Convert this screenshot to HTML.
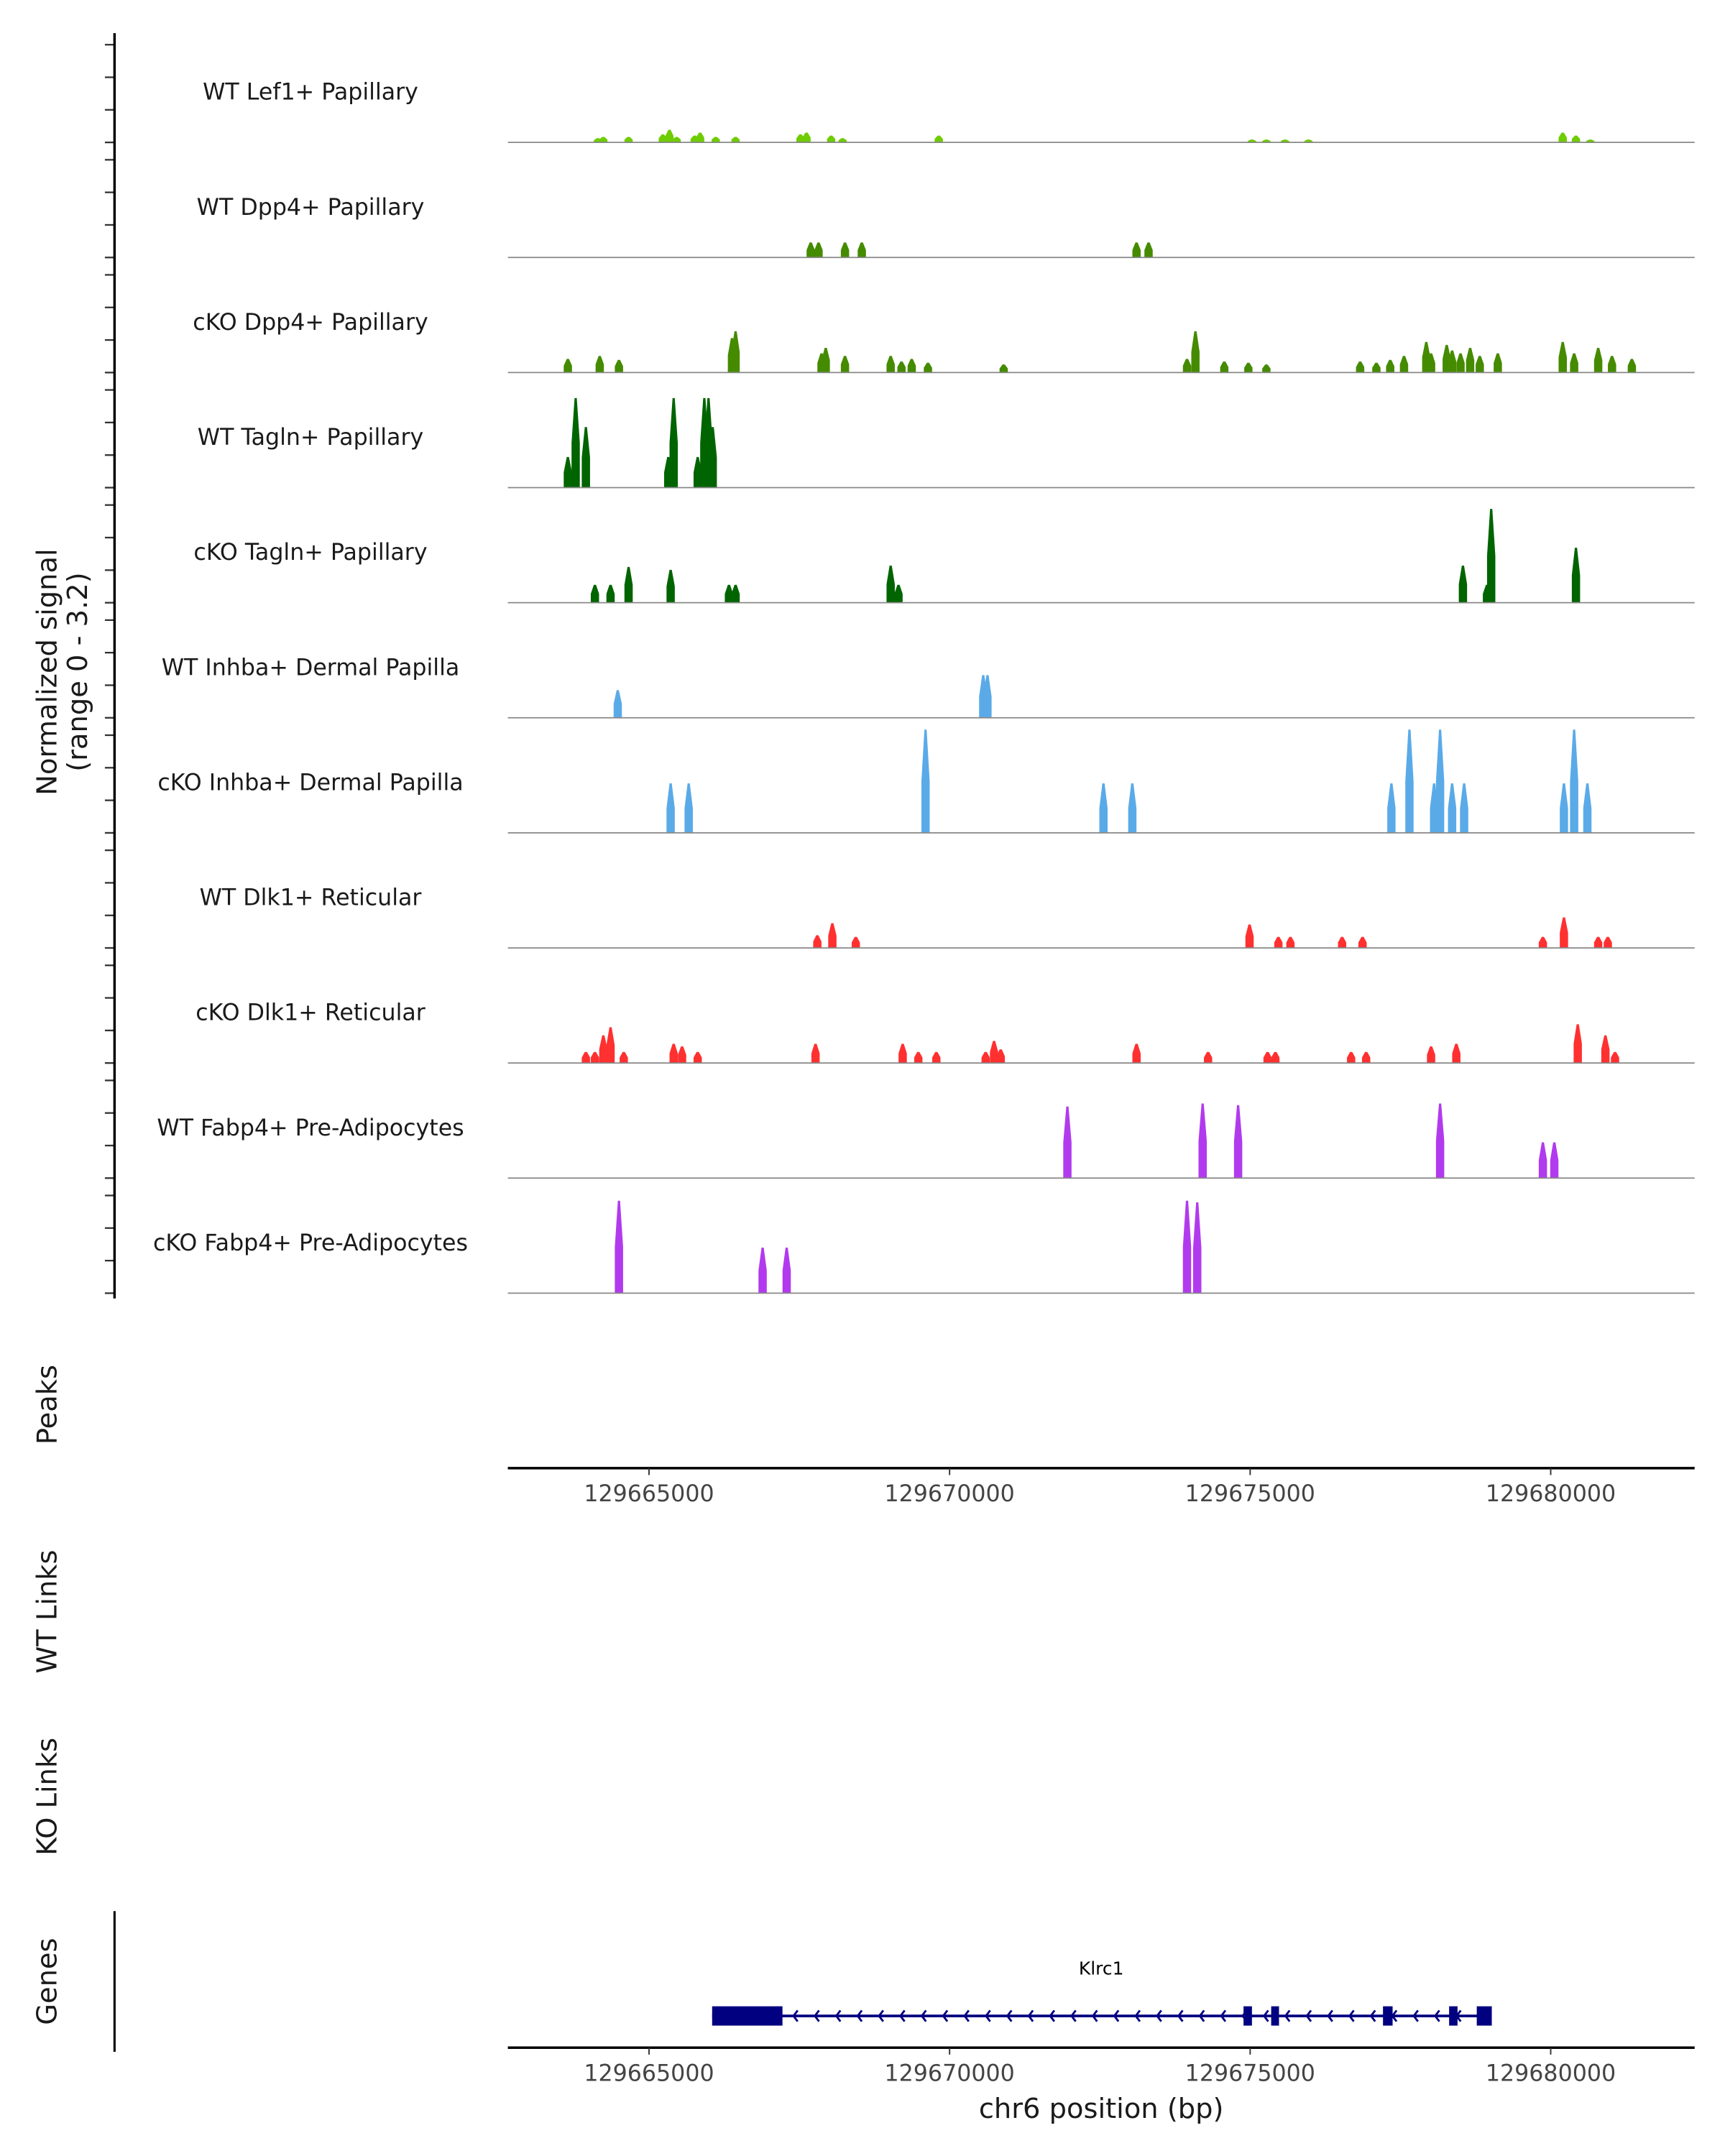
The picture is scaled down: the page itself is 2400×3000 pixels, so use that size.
<!DOCTYPE html>
<html><head><meta charset="utf-8"><style>
html,body{margin:0;padding:0;background:#fff;}
svg{display:block;font-family:"DejaVu Sans","Liberation Sans",sans-serif;}
</style></head><body>
<svg id="chart" width="2400" height="3000" viewBox="0 0 1250 1562.5" xmlns="http://www.w3.org/2000/svg">
<rect width="1250" height="1562.5" fill="#fff"/>
<g id="tracks"></g>
<g id="axes"></g>
</svg>
<script>
// ---- data (positions in bp, values in normalized signal) ----
const trackNames = ["WT Lef1+ Papillary","WT Dpp4+ Papillary","cKO Dpp4+ Papillary","WT Tagln+ Papillary","cKO Tagln+ Papillary","WT Inhba+ Dermal Papilla","cKO Inhba+ Dermal Papilla","WT Dlk1+ Reticular","cKO Dlk1+ Reticular","WT Fabp4+ Pre-Adipocytes","cKO Fabp4+ Pre-Adipocytes"];
const trackColors = ["#6fcc00","#458b00","#458b00","#006400","#006400","#5aaae8","#5aaae8","#ff3030","#ff3030","#b23aee","#b23aee"];
const pos0 = [129664150,129664240,129664660,129665230,129665340,129665460,129665760,129665850,129666110,129666440,129667520,129667620,129668030,129668220,129669820,129675030,129675270,129675580,129675970,129680200,129680420,129680660];
const val0 = [0.13,0.17,0.17,0.25,0.39,0.17,0.21,0.3,0.17,0.17,0.25,0.3,0.21,0.13,0.21,0.09,0.09,0.09,0.09,0.3,0.21,0.09];
const pos1 = [129667690,129667820,129668260,129668540,129673110,129673310];
const val1 = [0.46,0.46,0.46,0.46,0.46,0.46];
const pos2 = [129663650,129664180,129664500,129666380,129666440,129667870,129667940,129668260,129669020,129669200,129669370,129669640,129670900,129673950,129674090,129674570,129674970,129675270,129676830,129677100,129677330,129677560,129677930,129678010,129678270,129678360,129678500,129678660,129678820,129679120,129680200,129680390,129680790,129681020,129681350];
const val2 = [0.42,0.51,0.39,1.06,1.27,0.59,0.76,0.51,0.51,0.34,0.42,0.3,0.25,0.42,1.27,0.34,0.3,0.25,0.34,0.3,0.39,0.51,0.94,0.59,0.85,0.68,0.59,0.76,0.51,0.59,0.94,0.59,0.76,0.51,0.42];
const pos3 = [129663650,129663780,129663950,129665320,129665410,129665810,129665920,129665990,129666060];
const val3 = [0.94,2.75,1.86,0.94,2.75,0.94,2.75,2.75,1.86];
const pos4 = [129664100,129664360,129664660,129665360,129666330,129666440,129669020,129669150,129678540,129678940,129679010,129680420];
const val4 = [0.55,0.55,1.1,1.01,0.55,0.55,1.14,0.55,1.14,0.55,2.88,1.69];
const pos5 = [129664480,129670560,129670630];
const val5 = [0.85,1.31,1.31];
const pos6 = [129665360,129665660,129669600,129672560,129673040,129677350,129677650,129678060,129678160,129678360,129678560,129680220,129680390,129680610];
const val6 = [1.52,1.52,3.17,1.52,1.52,1.52,3.17,1.52,3.17,1.52,1.52,1.52,3.17,1.52];
const pos7 = [129667800,129668050,129668440,129674990,129675470,129675670,129676530,129676870,129679870,129680220,129680790,129680950];
const val7 = [0.39,0.76,0.34,0.72,0.34,0.34,0.34,0.34,0.34,0.94,0.34,0.34];
const pos8 = [129663950,129664100,129664240,129664360,129664580,129665410,129665550,129665810,129667770,129669220,129669480,129669780,129670600,129670740,129670850,129673110,129674300,129675290,129675420,129676680,129676930,129678010,129678430,129680450,129680910,129681070];
const val8 = [0.34,0.34,0.85,1.1,0.34,0.59,0.51,0.34,0.59,0.59,0.34,0.34,0.34,0.68,0.42,0.59,0.34,0.34,0.34,0.34,0.34,0.51,0.59,1.19,0.85,0.34];
const pos9 = [129671960,129674210,129674800,129678160,129679870,129680060];
const val9 = [2.2,2.29,2.24,2.29,1.1,1.1];
const pos10 = [129664500,129666890,129667290,129673950,129674120];
const val10 = [2.84,1.4,1.4,2.84,2.79];
const trackPos = [pos0,pos1,pos2,pos3,pos4,pos5,pos6,pos7,pos8,pos9,pos10];
const trackVals = [val0,val1,val2,val3,val4,val5,val6,val7,val8,val9,val10];
const yTickVals = [0,1,2,3];
const xTicks = [129665000,129670000,129675000,129680000];
const xTickLabels = ["129665000","129670000","129675000","129680000"];
const geneName = "Klrc1";
const geneStart = 129666050, geneEnd = 129679020;
const exonStarts = [129666050,129674890,129675350,129677210,129678310,129678770];
const exonEnds = [129667220,129675030,129675480,129677370,129678450,129679020];

// ---- scales ----
const NS = "http://www.w3.org/2000/svg";
const X0 = 368, X1 = 1228;
function xs(bp){ return 470.3 + (bp - 129665000) * 0.04356; }
const trackH = 83.4, firstBase = 103.2;
function base(i){ return firstBase + i * trackH; }
function ys(v){ return v * 23.6; }
function mk(tag, attrs, parent){ const e = document.createElementNS(NS, tag); for (const k in attrs) e.setAttribute(k, attrs[k]); parent.appendChild(e); return e; }

const gT = document.getElementById("tracks");
const gA = document.getElementById("axes");

for (let i = 0; i < trackNames.length; i++) {
  const b = base(i);
  const g = mk("g", {}, gT);
  
  
  const lab = mk("text", {x:225, y:b-31, "text-anchor":"middle", "font-size":"16.5", fill:"#1a1a1a"}, g);
  lab.textContent = trackNames[i];
  
  
  const ps = trackPos[i], vs = trackVals[i];
  for (let j = 0; j < ps.length; j++) {
    const x = xs(ps[j]), h = ys(vs[j]);
    const p = mk("polygon", {points:`${x-3},${b} ${x-3},${b-h*0.5} ${x-0.8},${b-h} ${x+0.8},${b-h} ${x+3},${b-h*0.5} ${x+3},${b}`, fill:trackColors[i]}, g);
    
    
  }
  const bl = mk("line", {x1:X0, x2:X1, y1:b, y2:b, stroke:"#888", "stroke-width":"0.9"}, g);
  
  
  for (let k = 0; k < yTickVals.length; k++) {
    const y = b - ys(yTickVals[k]);
    const t = mk("line", {x1:76, x2:83, y1:y, y2:y, stroke:"#333", "stroke-width":"1.2"}, gA);
    
    
  }
}

// left y axis
const yl = mk("line", {x1:83, x2:83, y1:24, y2:941, stroke:"#000", "stroke-width":"1.8"}, gA);


const yt = mk("text", {transform:"translate(41,487) rotate(-90)", "text-anchor":"middle", "font-size":"20", fill:"#1a1a1a"}, gA);


const t1 = mk("tspan", {x:0, dy:"0"}, yt); t1.textContent = "Normalized signal";
const t2 = mk("tspan", {x:0, dy:"22"}, yt); t2.textContent = "(range 0 - 3.2)";

function sideLabel(txt, y, name){
  const t = mk("text", {transform:`translate(41,${y}) rotate(-90)`, "text-anchor":"middle", "font-size":"20", fill:"#1a1a1a"}, gA);
  t.textContent = txt;
  
  
}
sideLabel("Peaks", 1018, "peaks-label");
sideLabel("WT Links", 1168, "wt-links-label");
sideLabel("KO Links", 1302, "ko-links-label");
sideLabel("Genes", 1436, "genes-label");

function xAxis(y, name){
  const l = mk("line", {x1:X0, x2:X1, y1:y, y2:y, stroke:"#000", "stroke-width":"1.8"}, gA);
  
  
  for (let k = 0; k < xTicks.length; k++) {
    const x = xs(xTicks[k]);
    const tk = mk("line", {x1:x, x2:x, y1:y, y2:y+5, stroke:"#333", "stroke-width":"1"}, gA);
    
    
    const tl = mk("text", {x:x, y:y+24, "text-anchor":"middle", "font-size":"16.5", fill:"#444"}, gA);
    tl.textContent = xTickLabels[k];
    
    
  }
}
xAxis(1064, "peaks-x-axis");
xAxis(1484, "genes-x-axis");
const xt = mk("text", {x:798, y:1535, "text-anchor":"middle", "font-size":"20", fill:"#1a1a1a"}, gA);
xt.textContent = "chr6 position (bp)";



// gene track
const gl = mk("line", {x1:83, x2:83, y1:1385, y2:1487, stroke:"#000", "stroke-width":"1.6"}, gA);


const gG = mk("g", {}, gA);


const gy = 1461;
mk("line", {x1:xs(geneStart), x2:xs(geneEnd), y1:gy, y2:gy, stroke:"#000080", "stroke-width":"2"}, gG);
for (let k = 0; k < exonStarts.length; k++) {
  const e = mk("rect", {x:xs(exonStarts[k]), y:gy-7, width:Math.max(4, (exonEnds[k]-exonStarts[k])*0.04356), height:14, fill:"#000080"}, gG);
  
  
}
for (let x = xs(exonEnds[0]) + 8; x < xs(geneEnd) - 4; x += 15.5) {
  mk("polyline", {points:`${x+3},${gy-4} ${x},${gy} ${x+3},${gy+4}`, fill:"none", stroke:"#000080", "stroke-width":"1.5"}, gG);
}
const gn = mk("text", {x:798, y:1431, "text-anchor":"middle", "font-size":"13", fill:"#000"}, gG);
gn.textContent = geneName;


</script>
</body></html>
